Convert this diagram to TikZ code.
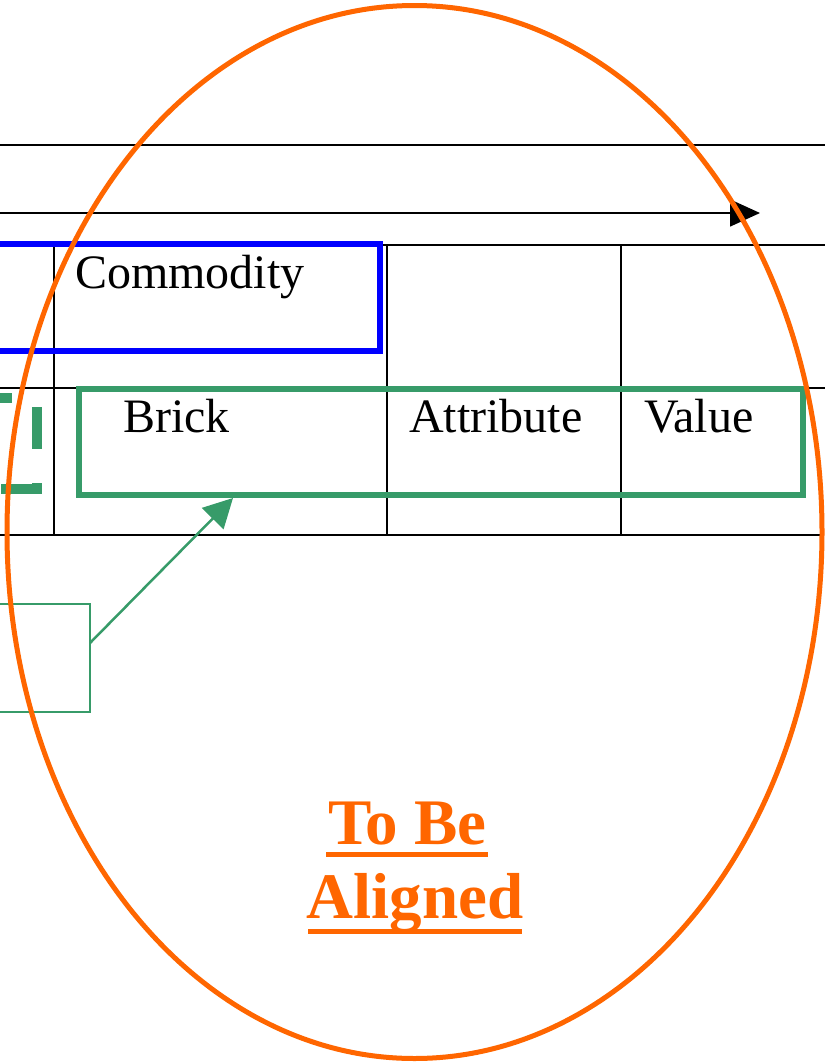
\documentclass[tikz,border=0pt]{standalone}
\usepackage{fontspec}
\setmainfont{Liberation Serif}
\usetikzlibrary{arrows.meta,positioning}
\definecolor{brickgreen}{RGB}{55,155,105}
\definecolor{alignorange}{RGB}{255,102,0}
\definecolor{commblue}{RGB}{0,0,255}

\begin{document}
\begin{tikzpicture}[x=1pt,y=-1pt,
    rule/.style={line width=1.6pt},
    celltext/.style={anchor=base west,inner sep=0pt,font=\fontsize{48}{57}\selectfont},
    bigtext/.style={anchor=base,inner sep=0pt,text=alignorange,font=\fontsize{65}{76}\selectfont\bfseries}]
    \useasboundingbox (0,0) rectangle (825,1063);
    % table rules
    \draw[rule] (0,145) -- (825,145);
    \draw[rule] (0,245) -- (825,245);
    \draw[rule] (0,388) -- (825,388);
    \draw[rule] (0,535) -- (822,535);
    \foreach \x in {54,387,621}
        \draw[rule] (\x,245) -- (\x,535);
    % time line
    \coordinate (timestart) at (-5,213);
    \coordinate (timeend) at (760,213);
    \draw[rule,-{Triangle[length=30pt,width=27pt]}] (timestart) -- (timeend);
    % commodity
    \draw[commblue,line width=6pt] (-10,244) rectangle (380,351);
    \node[celltext] (commodity) at (75,288) {Commodity};
    % brick row
    \draw[brickgreen,line width=6pt] (79,389) rectangle (803,495);
    \node[celltext] (brick) at (123,432) {Brick};
    \node[celltext] (attribute) at (409,432) {Attribute};
    \node[celltext] (value) at (644,432) {Value};
    \draw[brickgreen,line width=10pt,dash pattern=on 42pt off 34pt,dash phase=30pt]
        (0,398) -- (37,398) -- (37,489) -- (0,489);
    % pointer box
    \draw[brickgreen,line width=2.2pt] (-10,604) rectangle (90,712);
    \coordinate (boxout) at (90,643);
    \coordinate (brickin) at (233,498);
    \draw[brickgreen,line width=2.5pt,-{Triangle[length=29pt,width=30pt]}] (boxout) -- (brickin);
    % ellipse
    \draw[alignorange,line width=5pt] (414.5,532) ellipse [x radius=407.5pt,y radius=526.5pt];
    \node[bigtext] (tobe) at (407.5,844) {To Be};
    \node[bigtext] (aligned) at (415,918) {Aligned};
    \draw[alignorange,line width=5pt] (326,854.5) -- (488,854.5);
    \draw[alignorange,line width=5pt] (308,931) -- (522,931);
\end{tikzpicture}
\end{document}
